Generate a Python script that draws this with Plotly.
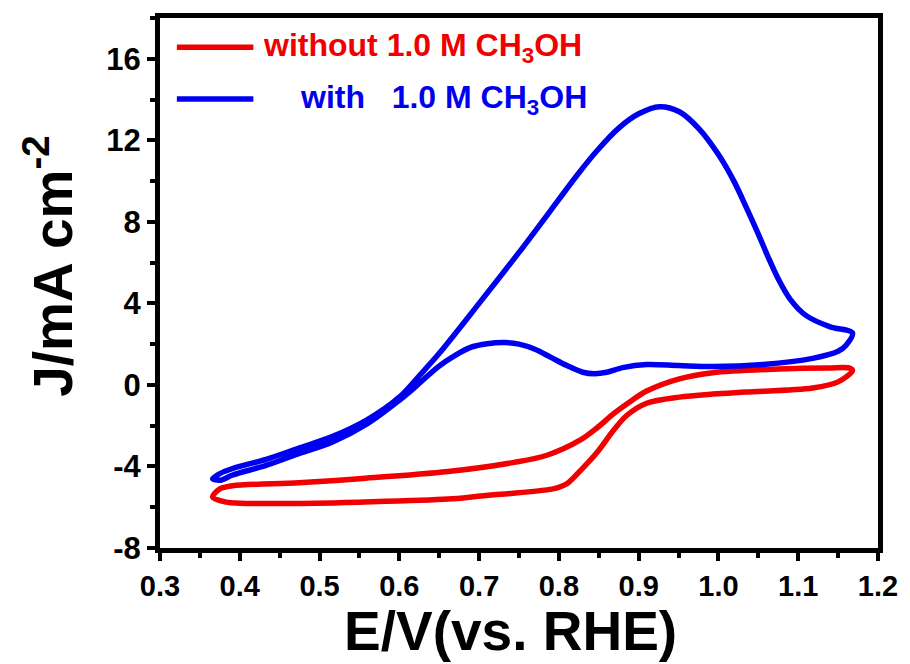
import plotly.graph_objects as go

# Blue: with 1.0 M CH3OH (start at left tip, forward scan, then reverse)
blue_E = [0.366, 0.375, 0.391, 0.433, 0.474, 0.515, 0.56, 0.60, 0.625, 0.649, 0.70, 0.75,
          0.80, 0.823, 0.848, 0.875, 0.90, 0.926, 0.951, 0.976, 1.0, 1.02, 1.035,
          1.05, 1.062, 1.075, 1.09, 1.11, 1.14, 1.168,
          1.16, 1.15, 1.118, 1.056, 0.993, 0.95, 0.91, 0.88, 0.86, 0.845, 0.83, 0.81,
          0.79, 0.77, 0.75, 0.732, 0.71, 0.69, 0.67, 0.649, 0.62, 0.60, 0.56, 0.515,
          0.474, 0.433, 0.391, 0.375, 0.366]
blue_J = [-4.6, -4.35, -4.1, -3.65, -3.1, -2.55, -1.7, -0.6, 0.45, 1.5, 4.0, 6.5,
          9.1, 10.3, 11.5, 12.6, 13.3, 13.65, 13.4, 12.55, 11.3, 9.95, 8.7,
          7.4, 6.3, 5.2, 4.2, 3.4, 2.85, 2.55,
          1.95, 1.65, 1.3, 1.0, 0.9, 0.95, 1.0, 0.85, 0.62, 0.55, 0.62, 0.95,
          1.35, 1.75, 2.0, 2.08, 2.02, 1.85, 1.45, 0.9, -0.1, -0.75, -1.9, -2.82,
          -3.37, -3.95, -4.42, -4.68, -4.6]

# Red: without CH3OH
red_E = [0.366, 0.375, 0.391, 0.474, 0.55, 0.661, 0.744, 0.785, 0.827, 0.848, 0.869, 0.89,
         0.91, 0.951, 0.993, 1.076, 1.138, 1.165, 1.168,
         1.15, 1.118, 1.034, 0.993, 0.951, 0.91, 0.885, 0.869, 0.848, 0.827, 0.81, 0.798,
         0.785, 0.702, 0.661, 0.55, 0.495, 0.40, 0.383, 0.366]
red_J = [-5.5, -5.1, -4.95, -4.8, -4.6, -4.25, -3.8, -3.45, -2.7, -2.1, -1.4, -0.8,
         -0.3, 0.3, 0.6, 0.78, 0.83, 0.82, 0.7,
         0.15, -0.15, -0.35, -0.45, -0.6, -0.9, -1.5, -2.2, -3.3, -4.2, -4.85, -5.05,
         -5.15, -5.45, -5.6, -5.75, -5.8, -5.8, -5.75, -5.5]

x_ticks = [0.3, 0.4, 0.5, 0.6, 0.7, 0.8, 0.9, 1.0, 1.1, 1.2]
y_ticks = [-8, -4, 0, 4, 8, 12, 16]

RED = "#f00000"
BLUE = "#0000f0"
FONT = "Liberation Sans, Arial, sans-serif"

fig = go.Figure()
fig.add_trace(go.Scatter(x=red_E, y=red_J, mode="lines",
                         line=dict(color=RED, width=5.5, shape="spline", smoothing=0.9),
                         showlegend=False))
fig.add_trace(go.Scatter(x=blue_E, y=blue_J, mode="lines",
                         line=dict(color=BLUE, width=5.5, shape="spline", smoothing=0.9),
                         showlegend=False))

axis_common = dict(showline=True, linewidth=5, linecolor="black", mirror=True,
                   ticks="outside", tickwidth=4, tickcolor="black", ticklen=8,
                   showgrid=False, zeroline=False)

fig.update_xaxes(range=[0.3, 1.2], tickvals=x_ticks, ticktext=[f"{v:.1f}" for v in x_ticks],
                 tickfont=dict(family=FONT, size=29, color="black", weight="bold"),
                 minor=dict(ticks="outside", dtick=0.05, tick0=0.3, ticklen=5, tickwidth=4,
                            tickcolor="black"),
                 **axis_common)
fig.update_yaxes(range=[-8, 18], tickvals=y_ticks, ticktext=[str(v) for v in y_ticks],
                 tickfont=dict(family=FONT, size=31, color="black", weight="bold"),
                 minor=dict(ticks="outside", dtick=2, tick0=0, ticklen=5, tickwidth=4,
                            tickcolor="black"),
                 **axis_common)

# legend (drawn manually)
leg = [("without 1.0 M CH<sub>3</sub>OH", RED, 0.945, 262),
       ("with\u00a0\u00a0\u00a01.0 M CH<sub>3</sub>OH", BLUE, 0.847, 299)]
for text, col, ypos, xpx in leg:
    fig.add_shape(type="line", xref="paper", yref="paper",
                  x0=(177 - 160) / 723, x1=(254 - 160) / 723, y0=ypos, y1=ypos,
                  line=dict(color=col, width=5.5))
    fig.add_annotation(text=text, xref="paper", yref="paper", x=(xpx - 160) / 723, y=ypos,
                       xanchor="left", yanchor="middle", showarrow=False,
                       font=dict(family=FONT, size=32, color=col, weight="bold"))

# axis titles
fig.add_annotation(text="E/V(vs. RHE)", xref="paper", yref="paper", x=0.488, y=-0.157,
                   xanchor="center", yanchor="middle", showarrow=False,
                   font=dict(family=FONT, size=55, color="black", weight="bold"))
fig.add_annotation(text="J/mA cm<sup>-2</sup>", xref="paper", yref="paper", x=-0.155, y=0.532,
                   xanchor="center", yanchor="middle", showarrow=False, textangle=-90,
                   font=dict(family=FONT, size=55, color="black", weight="bold"))

fig.update_layout(width=910, height=664, plot_bgcolor="white", paper_bgcolor="white",
                  margin=dict(l=160, r=27, t=18, b=116))

fig.write_html("out.html")
